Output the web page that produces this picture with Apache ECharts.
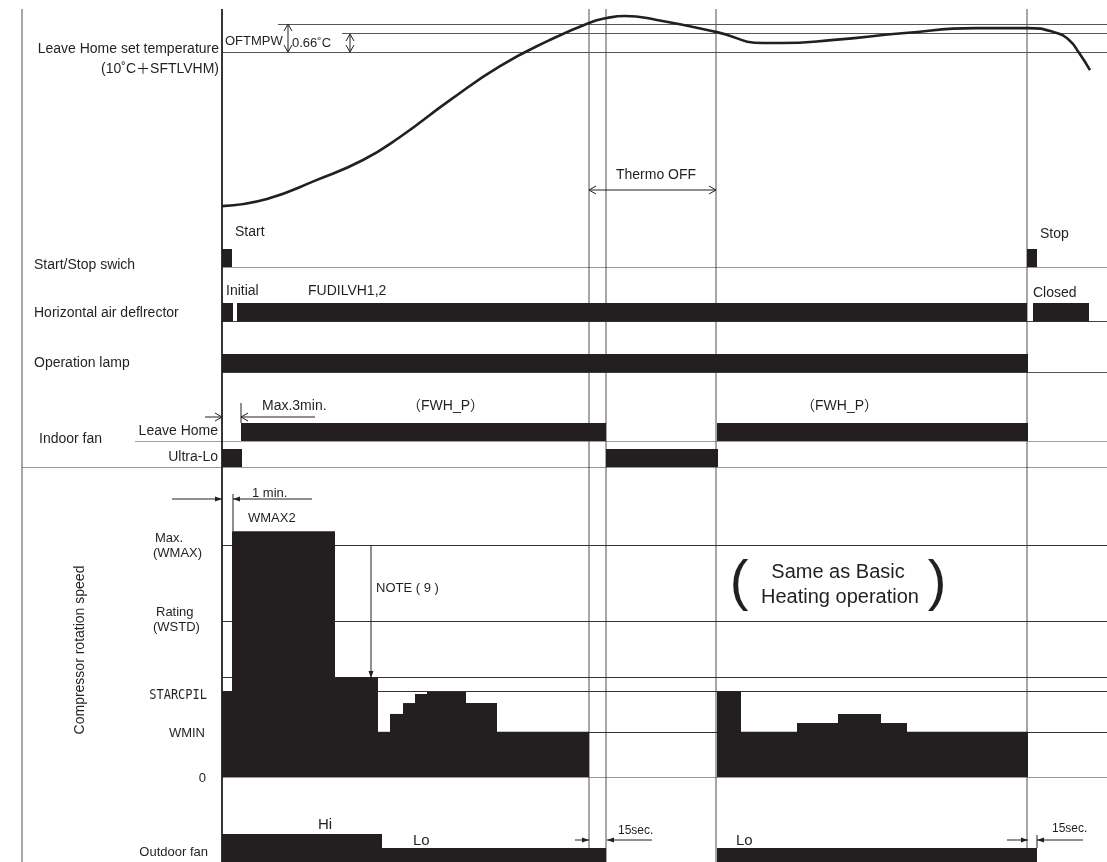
<!DOCTYPE html>
<html>
<head>
<meta charset="utf-8">
<script src="https://cdn.jsdelivr.net/npm/echarts@6.0.0/dist/echarts.min.js"></script>
<style>
html, body { margin: 0; padding: 0; background: #fff; }
#chart { width: 1107px; height: 862px; }
</style>
</head>
<body>
<div id="chart"></div>
<script>
// time axis: 0 = Start button pressed (arbitrary units)
const tMin = -200, tMax = 885;
const eventTimes = [0, 367, 384, 494, 805]; // start, thermo off, fan off, thermo on, stop

// room temperature, relative to Leave Home set temperature (degC)
const tempTime = [0, 45, 95, 141, 178, 228, 278, 328, 367, 385, 403, 435, 495, 541, 559, 612, 683, 754, 806, 832, 847, 857, 868];
const tempValue = [-5.35, -5.1, -4.44, -3.75, -2.95, -1.67, -0.49, 0.42, 1.01, 1.18, 1.25, 1.11, 0.69, 0.31, 0.31, 0.42, 0.66, 0.83, 0.83, 0.69, 0.42, -0.03, -0.63];
const OFTMPW = 0.97, HYST = 0.66;

// on/off signals: [from, to]
const startStopOn = [[0, 10], [805, 815]];
const deflectorOn = [[0, 11], [15, 805], [811, 867]];
const lampOn = [[0, 806]];
const leaveHomeOn = [[19, 384], [495, 806]];
const ultraLoOn = [[0, 20], [384, 496]];

// compressor speed levels
const WMAX2 = 106, WMAX = 100, WSTD = 67, STARCPIL_H = 43, STARCPIL = 37, WMIN = 19.5;
const compLevels = [WMAX, WSTD, STARCPIL_H, STARCPIL, WMIN, 0];
// compressor speed steps: [from, to, speed]
const compSteps = [
  [0, 10, 37], [10, 113, 106], [113, 156, 43], [156, 168, 19.5], [168, 181, 27.2],
  [181, 193, 31.9], [193, 205, 35.8], [205, 244, 36.7], [244, 275, 31.9], [275, 367, 19.5],
  [495, 519, 37], [519, 575, 19.5], [575, 616, 23.3], [616, 659, 27.2], [659, 685, 23.3], [685, 806, 19.5]
];
// outdoor fan: Hi = 2, Lo = 1
const fanSteps = [[0, 160, 2], [160, 384, 1], [495, 815, 1]];

const ink = '#231f20';
const FONT = '"Liberation Sans", Arial, "Noto Sans CJK JP", sans-serif';

const grids = [
  { top: 8.8, height: 216 }, // 0 temperature
  { top: 249, height: 18 },  // 1 start/stop
  { top: 303, height: 18.5 },// 2 deflector
  { top: 354, height: 18.5 },// 3 lamp
  { top: 423, height: 18 },  // 4 leave home
  { top: 449, height: 18 },  // 5 ultra-lo
  { top: 522, height: 255 }, // 6 compressor
  { top: 820, height: 42 },  // 7 outdoor fan
  { top: 9, height: 853 }    // 8 overlay for time marks
];
const yRanges = [[-6, 1.5], [0, 1], [0, 1], [0, 1], [0, 1], [0, 1], [0, 110], [0, 3], [0, 1]];

function rectSeries(g, segs) {
  return {
    type: 'custom', xAxisIndex: g, yAxisIndex: g, silent: true, z: 5,
    encode: { x: [0, 1], y: 2 },
    renderItem: function (params, api) {
      const a = api.coord([api.value(0), api.value(2)]);
      const b = api.coord([api.value(1), 0]);
      return { type: 'rect', shape: { x: a[0], y: a[1], width: b[0] - a[0], height: b[1] - a[1] }, style: { fill: ink } };
    },
    data: segs
  };
}
const onOff = segs => segs.map(s => [s[0], s[1], 1]);

function lineSeries(g, coordsList, color, width, z) {
  return {
    type: 'lines', coordinateSystem: 'cartesian2d', xAxisIndex: g, yAxisIndex: g,
    silent: true, z: z || 2, animation: false,
    lineStyle: { color: color, width: width, opacity: 1 },
    data: coordsList.map(c => ({ coords: c }))
  };
}

const series = [
  // reference lines
  lineSeries(0, [[[0, 0], [tMax, 0]], [[56, OFTMPW], [tMax, OFTMPW]], [[120, HYST], [tMax, HYST]]], '#555', 1.2),
  lineSeries(1, [[[0, 0], [tMax, 0]]], '#333', 1.2),
  lineSeries(2, [[[0, 0], [tMax, 0]]], '#444', 1.2),
  lineSeries(3, [[[0, 0], [tMax, 0]]], '#555', 1.2),
  lineSeries(4, [[[-87, 0], [tMax, 0]]], '#444', 1.2),
  lineSeries(5, [[[tMin, 0], [tMax, 0]]], '#333', 1.2),
  lineSeries(6, compLevels.map(v => [[0, v], [tMax, v]]), '#333', 1.2),
  // time marks
  lineSeries(8, [[[tMin, 0], [tMin, 1]]], '#8a8a8a', 1.5, 1),
  lineSeries(8, eventTimes.slice(1).map(t => [[t, 0], [t, 1]]), '#8a8a8a', 1.5, 1),
  lineSeries(8, [[[0, 0], [0, 1]]], ink, 1.8, 6),
  // signals
  rectSeries(1, onOff(startStopOn)),
  rectSeries(2, onOff(deflectorOn)),
  rectSeries(3, onOff(lampOn)),
  rectSeries(4, onOff(leaveHomeOn)),
  rectSeries(5, onOff(ultraLoOn)),
  rectSeries(6, compSteps),
  rectSeries(7, fanSteps),
  {
    type: 'line', xAxisIndex: 0, yAxisIndex: 0, smooth: 0.5, symbol: 'none', silent: true, z: 6,
    lineStyle: { color: ink, width: 2.6 },
    data: tempTime.map((t, i) => [t, tempValue[i]])
  }
];

// annotation helpers
function txt(text, x, y, size, align, extra) {
  return Object.assign({
    type: 'text', x: x, y: y, silent: true, z: 100,
    style: { text: text, font: size + 'px ' + FONT, fill: ink, textAlign: align || 'left', textVerticalAlign: 'middle' }
  }, extra || {});
}
function seg(points, w) {
  return { type: 'polyline', silent: true, z: 100, shape: { points: points }, style: { stroke: ink, lineWidth: w || 1, fill: null } };
}
function head(x, y, dir, filled) {
  const L = 7, W = filled ? 2.5 : 4;
  const d = { r: [1, 0], l: [-1, 0], u: [0, -1], d: [0, 1] }[dir];
  const bx = x - d[0] * L, by = y - d[1] * L;
  const px = -d[1] * W, py = d[0] * W;
  const pts = [[bx + px, by + py], [x, y], [bx - px, by - py]];
  return filled
    ? { type: 'polygon', silent: true, z: 100, shape: { points: pts }, style: { fill: ink } }
    : seg(pts, 1);
}

const graphics = [
  // left column
  txt('Leave Home set temperature', 219, 49, 14, 'right'),
  txt('(10˚C＋SFTLVHM)', 219, 69, 14, 'right'),
  txt('Start/Stop swich', 34, 265, 14),
  txt('Horizontal air deflrector', 34, 313, 14),
  txt('Operation lamp', 34, 363, 14),
  txt('Indoor fan', 39, 439, 14),
  txt('Leave Home', 218, 431, 14, 'right'),
  txt('Ultra-Lo', 218, 457, 14, 'right'),
  txt('Compressor rotation speed', 80, 650, 14, 'center', { rotation: Math.PI / 2 }),
  txt('Max.', 155, 538, 13),
  txt('(WMAX)', 153, 553, 13),
  txt('Rating', 156, 612, 13),
  txt('(WSTD)', 153, 627, 13),
  { type: 'text', x: 207, y: 695, silent: true, z: 100, scaleY: 1.2,
    style: { text: 'STARCPIL', font: '12px "DejaVu Sans Mono", monospace', fill: ink, textAlign: 'right', textVerticalAlign: 'middle' } },
  txt('WMIN', 205, 733, 13, 'right'),
  txt('0', 206, 778, 13, 'right'),
  txt('Outdoor fan', 208, 852, 13, 'right'),

  // temperature annotations
  txt('OFTMPW', 225, 41, 13),
  txt('0.66˚C', 292, 43, 13),
  seg([[288, 24], [288, 52]]), head(288, 24, 'u'), head(288, 52, 'd'),
  seg([[350, 34], [350, 52]]), head(350, 34, 'u'), head(350, 52, 'd'),
  txt('Thermo OFF', 616, 175, 14),
  seg([[589, 190], [716, 190]]), head(589, 190, 'l'), head(716, 190, 'r'),

  // signal annotations
  txt('Start', 235, 232, 14),
  txt('Stop', 1040, 234, 14),
  txt('Initial', 226, 291, 14),
  txt('FUDILVH1,2', 308, 291, 14),
  txt('Closed', 1033, 293, 14),
  txt('Max.3min.', 262, 406, 14),
  txt('（FWH_P）', 407, 406, 14),
  txt('（FWH_P）', 801, 406, 14),
  seg([[205, 417], [222, 417]]), head(222, 417, 'r'),
  seg([[241, 417], [315, 417]]), head(241, 417, 'l'),
  seg([[241, 403], [241, 423]]),

  // compressor annotations
  txt('1 min.', 252, 493, 13),
  txt('WMAX2', 248, 518, 13),
  seg([[172, 499], [222, 499]]), head(222, 499, 'r', true),
  seg([[233, 499], [312, 499]]), head(233, 499, 'l', true),
  seg([[233, 494], [233, 531]]),
  seg([[371, 545], [371, 678]]), head(371, 678, 'd', true),
  txt('NOTE ( 9 )', 376, 588, 13),
  txt('Same as Basic', 838, 572, 20, 'center'),
  txt('Heating operation', 840, 597, 20, 'center'),
  txt('(', 739, 584, 56, 'center'),
  txt(')', 937, 584, 56, 'center'),

  // outdoor fan annotations
  txt('Hi', 318, 825, 15),
  txt('Lo', 413, 841, 15),
  txt('Lo', 736, 841, 15),
  txt('15sec.', 618, 831, 12),
  seg([[575, 840], [589, 840]]), head(589, 840, 'r', true),
  seg([[607, 840], [652, 840]]), head(607, 840, 'l', true),
  txt('15sec.', 1052, 829, 12),
  seg([[1007, 840], [1028, 840]]), head(1028, 840, 'r', true),
  seg([[1037, 840], [1083, 840]]), head(1037, 840, 'l', true),
  seg([[1037, 835], [1037, 848]])
];

const chart = echarts.init(document.getElementById('chart'), null, { renderer: 'canvas' });
chart.setOption({
  animation: false,
  backgroundColor: '#fff',
  grid: grids.map(g => ({ left: 22, right: 0, top: g.top, height: g.height })),
  xAxis: grids.map((g, i) => ({ type: 'value', gridIndex: i, min: tMin, max: tMax, show: false })),
  yAxis: grids.map((g, i) => ({ type: 'value', gridIndex: i, min: yRanges[i][0], max: yRanges[i][1], show: false })),
  series: series,
  graphic: graphics
});
</script>
</body>
</html>
